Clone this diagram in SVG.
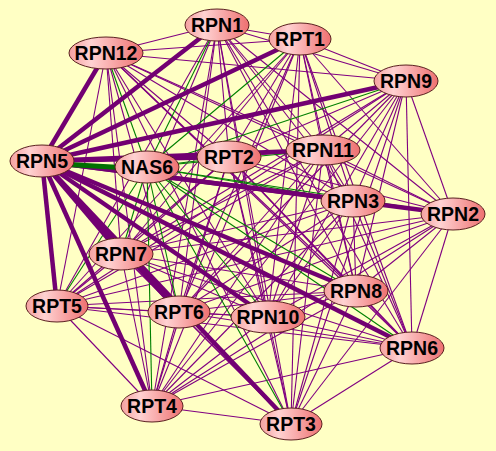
<svg xmlns="http://www.w3.org/2000/svg" width="496" height="451" viewBox="0 0 496 451">
<defs>
<linearGradient id="nf" x1="0" y1="0" x2="1" y2="0">
<stop offset="0" stop-color="#F4A0A0"/>
<stop offset="0.3" stop-color="#FFD2D2"/>
<stop offset="1" stop-color="#EE7070"/>
</linearGradient>
<style>
.e{stroke:#800080;stroke-width:1.1;fill:none}
.g{stroke:#008000;stroke-width:1.1;fill:none}
.t{stroke:#720072;stroke-width:4.5;fill:none}
.tg{stroke:#007000;stroke-width:5;fill:none}
.node ellipse{fill:url(#nf);stroke:#5A2020;stroke-width:1}
.node text{font-family:"Liberation Sans",Arial,sans-serif;font-weight:bold;font-size:19.5px;fill:#000;text-anchor:middle}
</style>
</defs>
<rect width="496" height="451" fill="#FFFFC4"/>
<g id="connectors">
<line class="e" x1="217" y1="25" x2="300" y2="39"/>
<line class="e" x1="217" y1="25" x2="106" y2="53"/>
<line class="e" x1="217" y1="25" x2="406" y2="81"/>
<line class="e" x1="217" y1="25" x2="229" y2="157"/>
<line class="e" x1="217" y1="25" x2="323" y2="150"/>
<line class="e" x1="217" y1="25" x2="353" y2="201"/>
<line class="e" x1="217" y1="25" x2="453" y2="214"/>
<line class="e" x1="217" y1="25" x2="121" y2="254"/>
<line class="e" x1="217" y1="25" x2="356" y2="291"/>
<line class="e" x1="217" y1="25" x2="57" y2="306"/>
<line class="e" x1="217" y1="25" x2="179" y2="312"/>
<line class="e" x1="217" y1="25" x2="268" y2="317"/>
<line class="e" x1="217" y1="25" x2="412" y2="348"/>
<line class="e" x1="217" y1="25" x2="152" y2="406"/>
<line class="e" x1="217" y1="25" x2="291" y2="424"/>
<line class="e" x1="300" y1="39" x2="106" y2="53"/>
<line class="e" x1="300" y1="39" x2="406" y2="81"/>
<line class="e" x1="300" y1="39" x2="229" y2="157"/>
<line class="e" x1="300" y1="39" x2="323" y2="150"/>
<line class="e" x1="300" y1="39" x2="353" y2="201"/>
<line class="e" x1="300" y1="39" x2="453" y2="214"/>
<line class="e" x1="300" y1="39" x2="121" y2="254"/>
<line class="e" x1="300" y1="39" x2="356" y2="291"/>
<line class="e" x1="300" y1="39" x2="57" y2="306"/>
<line class="e" x1="300" y1="39" x2="179" y2="312"/>
<line class="e" x1="300" y1="39" x2="268" y2="317"/>
<line class="e" x1="300" y1="39" x2="412" y2="348"/>
<line class="e" x1="300" y1="39" x2="152" y2="406"/>
<line class="e" x1="300" y1="39" x2="291" y2="424"/>
<line class="e" x1="106" y1="53" x2="406" y2="81"/>
<line class="e" x1="106" y1="53" x2="229" y2="157"/>
<line class="e" x1="106" y1="53" x2="323" y2="150"/>
<line class="e" x1="106" y1="53" x2="353" y2="201"/>
<line class="e" x1="106" y1="53" x2="453" y2="214"/>
<line class="e" x1="106" y1="53" x2="121" y2="254"/>
<line class="e" x1="106" y1="53" x2="356" y2="291"/>
<line class="e" x1="106" y1="53" x2="57" y2="306"/>
<line class="e" x1="106" y1="53" x2="179" y2="312"/>
<line class="e" x1="106" y1="53" x2="268" y2="317"/>
<line class="e" x1="106" y1="53" x2="412" y2="348"/>
<line class="e" x1="106" y1="53" x2="152" y2="406"/>
<line class="e" x1="106" y1="53" x2="291" y2="424"/>
<line class="e" x1="406" y1="81" x2="229" y2="157"/>
<line class="e" x1="406" y1="81" x2="323" y2="150"/>
<line class="e" x1="406" y1="81" x2="353" y2="201"/>
<line class="e" x1="406" y1="81" x2="453" y2="214"/>
<line class="e" x1="406" y1="81" x2="121" y2="254"/>
<line class="e" x1="406" y1="81" x2="356" y2="291"/>
<line class="e" x1="406" y1="81" x2="57" y2="306"/>
<line class="e" x1="406" y1="81" x2="179" y2="312"/>
<line class="e" x1="406" y1="81" x2="268" y2="317"/>
<line class="e" x1="406" y1="81" x2="412" y2="348"/>
<line class="e" x1="406" y1="81" x2="152" y2="406"/>
<line class="e" x1="406" y1="81" x2="291" y2="424"/>
<line class="e" x1="229" y1="157" x2="323" y2="150"/>
<line class="e" x1="229" y1="157" x2="353" y2="201"/>
<line class="e" x1="229" y1="157" x2="453" y2="214"/>
<line class="e" x1="229" y1="157" x2="121" y2="254"/>
<line class="e" x1="229" y1="157" x2="356" y2="291"/>
<line class="e" x1="229" y1="157" x2="57" y2="306"/>
<line class="e" x1="229" y1="157" x2="179" y2="312"/>
<line class="e" x1="229" y1="157" x2="268" y2="317"/>
<line class="e" x1="229" y1="157" x2="412" y2="348"/>
<line class="e" x1="229" y1="157" x2="152" y2="406"/>
<line class="e" x1="229" y1="157" x2="291" y2="424"/>
<line class="e" x1="323" y1="150" x2="353" y2="201"/>
<line class="e" x1="323" y1="150" x2="453" y2="214"/>
<line class="e" x1="323" y1="150" x2="121" y2="254"/>
<line class="e" x1="323" y1="150" x2="356" y2="291"/>
<line class="e" x1="323" y1="150" x2="57" y2="306"/>
<line class="e" x1="323" y1="150" x2="179" y2="312"/>
<line class="e" x1="323" y1="150" x2="268" y2="317"/>
<line class="e" x1="323" y1="150" x2="412" y2="348"/>
<line class="e" x1="323" y1="150" x2="152" y2="406"/>
<line class="e" x1="323" y1="150" x2="291" y2="424"/>
<line class="e" x1="353" y1="201" x2="121" y2="254"/>
<line class="e" x1="353" y1="201" x2="356" y2="291"/>
<line class="e" x1="353" y1="201" x2="57" y2="306"/>
<line class="e" x1="353" y1="201" x2="179" y2="312"/>
<line class="e" x1="353" y1="201" x2="268" y2="317"/>
<line class="e" x1="353" y1="201" x2="412" y2="348"/>
<line class="e" x1="353" y1="201" x2="152" y2="406"/>
<line class="e" x1="353" y1="201" x2="291" y2="424"/>
<line class="e" x1="453" y1="214" x2="121" y2="254"/>
<line class="e" x1="453" y1="214" x2="356" y2="291"/>
<line class="e" x1="453" y1="214" x2="57" y2="306"/>
<line class="e" x1="453" y1="214" x2="179" y2="312"/>
<line class="e" x1="453" y1="214" x2="268" y2="317"/>
<line class="e" x1="453" y1="214" x2="412" y2="348"/>
<line class="e" x1="453" y1="214" x2="152" y2="406"/>
<line class="e" x1="453" y1="214" x2="291" y2="424"/>
<line class="e" x1="121" y1="254" x2="356" y2="291"/>
<line class="e" x1="121" y1="254" x2="57" y2="306"/>
<line class="e" x1="121" y1="254" x2="179" y2="312"/>
<line class="e" x1="121" y1="254" x2="268" y2="317"/>
<line class="e" x1="121" y1="254" x2="412" y2="348"/>
<line class="e" x1="121" y1="254" x2="152" y2="406"/>
<line class="e" x1="121" y1="254" x2="291" y2="424"/>
<line class="e" x1="356" y1="291" x2="57" y2="306"/>
<line class="e" x1="356" y1="291" x2="179" y2="312"/>
<line class="e" x1="356" y1="291" x2="268" y2="317"/>
<line class="e" x1="356" y1="291" x2="412" y2="348"/>
<line class="e" x1="356" y1="291" x2="152" y2="406"/>
<line class="e" x1="356" y1="291" x2="291" y2="424"/>
<line class="e" x1="57" y1="306" x2="179" y2="312"/>
<line class="e" x1="57" y1="306" x2="268" y2="317"/>
<line class="e" x1="57" y1="306" x2="412" y2="348"/>
<line class="e" x1="57" y1="306" x2="152" y2="406"/>
<line class="e" x1="57" y1="306" x2="291" y2="424"/>
<line class="e" x1="179" y1="312" x2="268" y2="317"/>
<line class="e" x1="179" y1="312" x2="412" y2="348"/>
<line class="e" x1="179" y1="312" x2="152" y2="406"/>
<line class="e" x1="179" y1="312" x2="291" y2="424"/>
<line class="e" x1="268" y1="317" x2="412" y2="348"/>
<line class="e" x1="268" y1="317" x2="152" y2="406"/>
<line class="e" x1="268" y1="317" x2="291" y2="424"/>
<line class="e" x1="412" y1="348" x2="152" y2="406"/>
<line class="e" x1="412" y1="348" x2="291" y2="424"/>
<line class="e" x1="152" y1="406" x2="291" y2="424"/>
<line class="g" x1="147" y1="167" x2="217" y2="25"/>
<line class="g" x1="147" y1="167" x2="300" y2="39"/>
<line class="g" x1="147" y1="167" x2="106" y2="53"/>
<line class="g" x1="147" y1="167" x2="406" y2="81"/>
<line class="g" x1="147" y1="167" x2="229" y2="157"/>
<line class="g" x1="147" y1="167" x2="323" y2="150"/>
<line class="g" x1="147" y1="167" x2="353" y2="201"/>
<line class="g" x1="147" y1="167" x2="453" y2="214"/>
<line class="g" x1="147" y1="167" x2="121" y2="254"/>
<line class="g" x1="147" y1="167" x2="356" y2="291"/>
<line class="g" x1="147" y1="167" x2="57" y2="306"/>
<line class="g" x1="147" y1="167" x2="179" y2="312"/>
<line class="g" x1="147" y1="167" x2="268" y2="317"/>
<line class="g" x1="147" y1="167" x2="412" y2="348"/>
<line class="g" x1="147" y1="167" x2="152" y2="406"/>
<line class="g" x1="147" y1="167" x2="291" y2="424"/>
<line class="t" x1="42" y1="161" x2="217" y2="25"/>
<line class="t" x1="42" y1="161" x2="300" y2="39"/>
<line class="t" x1="42" y1="161" x2="106" y2="53"/>
<line class="t" x1="42" y1="161" x2="406" y2="81"/>
<line class="t" x1="42" y1="161" x2="229" y2="157"/>
<line class="t" x1="42" y1="161" x2="323" y2="150"/>
<line class="t" x1="42" y1="161" x2="353" y2="201"/>
<line class="t" x1="42" y1="161" x2="453" y2="214"/>
<line class="t" x1="42" y1="161" x2="121" y2="254"/>
<line class="t" x1="42" y1="161" x2="356" y2="291"/>
<line class="t" x1="42" y1="161" x2="57" y2="306"/>
<line class="t" x1="42" y1="161" x2="179" y2="312"/>
<line class="t" x1="42" y1="161" x2="268" y2="317"/>
<line class="t" x1="42" y1="161" x2="412" y2="348"/>
<line class="t" x1="42" y1="161" x2="152" y2="406"/>
<line class="t" x1="42" y1="161" x2="291" y2="424"/>
<line class="tg" x1="42" y1="163" x2="147" y2="169"/>
</g>
<g id="RPN1" class="node"><ellipse cx="217" cy="25" rx="32" ry="16"/><text x="217" y="32">RPN1</text></g>
<g id="RPT1" class="node"><ellipse cx="300" cy="39" rx="31" ry="16"/><text x="300" y="46">RPT1</text></g>
<g id="RPN12" class="node"><ellipse cx="106" cy="53" rx="37" ry="16"/><text x="106" y="60">RPN12</text></g>
<g id="RPN9" class="node"><ellipse cx="406" cy="81" rx="32" ry="16"/><text x="406" y="88">RPN9</text></g>
<g id="RPN5" class="node"><ellipse cx="42" cy="161" rx="32" ry="16"/><text x="42" y="168">RPN5</text></g>
<g id="NAS6" class="node"><ellipse cx="147" cy="167" rx="32" ry="16"/><text x="147" y="174">NAS6</text></g>
<g id="RPT2" class="node"><ellipse cx="229" cy="157" rx="32" ry="16"/><text x="229" y="164">RPT2</text></g>
<g id="RPN11" class="node"><ellipse cx="323" cy="150" rx="37" ry="15"/><text x="323" y="157">RPN11</text></g>
<g id="RPN3" class="node"><ellipse cx="353" cy="201" rx="32" ry="16"/><text x="353" y="208">RPN3</text></g>
<g id="RPN2" class="node"><ellipse cx="453" cy="214" rx="32" ry="16"/><text x="453" y="221">RPN2</text></g>
<g id="RPN7" class="node"><ellipse cx="121" cy="254" rx="32" ry="16"/><text x="121" y="261">RPN7</text></g>
<g id="RPN8" class="node"><ellipse cx="356" cy="291" rx="32" ry="16"/><text x="356" y="298">RPN8</text></g>
<g id="RPT5" class="node"><ellipse cx="57" cy="306" rx="31" ry="16"/><text x="57" y="313">RPT5</text></g>
<g id="RPT6" class="node"><ellipse cx="179" cy="312" rx="31" ry="16"/><text x="179" y="319">RPT6</text></g>
<g id="RPN10" class="node"><ellipse cx="268" cy="317" rx="37" ry="16"/><text x="268" y="324">RPN10</text></g>
<g id="RPN6" class="node"><ellipse cx="412" cy="348" rx="32" ry="16"/><text x="412" y="355">RPN6</text></g>
<g id="RPT4" class="node"><ellipse cx="152" cy="406" rx="31" ry="16"/><text x="152" y="413">RPT4</text></g>
<g id="RPT3" class="node"><ellipse cx="291" cy="424" rx="31" ry="16"/><text x="291" y="431">RPT3</text></g>
</svg>
